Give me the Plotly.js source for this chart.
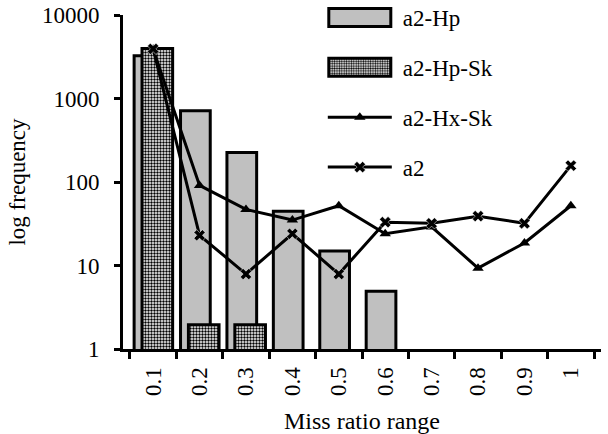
<!DOCTYPE html>
<html>
<head>
<meta charset="utf-8">
<script src="https://cdn.plot.ly/plotly-3.0.1.min.js"></script>
<style>html,body{margin:0;padding:0;background:#fff;}#chart{width:608px;height:434px;}</style>
</head>
<body>
<div id="chart"></div>
<script>
var categories = ["0.1","0.2","0.3","0.4","0.5","0.6","0.7","0.8","0.9","1"];
var a2Hp     = [3240, 714, 225, 44.5, 14.9, 4.9, null, null, null, null];
var a2HpSk   = [3980, 1.95, 1.95, null, null, null, null, null, null, null];
var a2HxSk   = [3900, 91, 47, 35, 52, 24, 29, 9.3, 18.6, 52];
var a2       = [3930, 23, 7.9, 24, 7.9, 33, 32, 39, 32, 157];
var yTickVals = [1, 10, 100, 1000, 10000];
var yTickText = ["1", "10", "100", "1000", "10000"];

var FONT = "'Liberation Serif', 'Times New Roman', Times, serif";

var traces = [
  {type:"bar", name:"a2-Hp", x:categories, y:a2Hp, offset:-0.41, width:0.64,
   marker:{color:"#c0c0c0", line:{color:"#000", width:3}}, legendgroup:"g1"},
  {type:"bar", name:"a2-Hp-Sk", x:categories, y:a2HpSk, offset:-0.24, width:0.66,
   marker:{color:"#ffffff", line:{color:"#000", width:3},
     pattern:{shape:".", fgcolor:"#000", bgcolor:"#fff", size:3, solidity:0.5}}, legendgroup:"g2"},
  {type:"scatter", mode:"lines+markers", name:"a2-Hx-Sk", x:categories, y:a2HxSk,
   line:{color:"#000", width:3}, marker:{symbol:"triangle-up", size:10, color:"#000"}, legendgroup:"g3"},
  {type:"scatter", mode:"lines+markers", name:"a2", x:categories, y:a2,
   line:{color:"#000", width:3}, marker:{symbol:"x", size:10, color:"#000", line:{color:"#fff", width:0.5}}, legendgroup:"g4"}
];

var layout = {
  width:608, height:434,
  margin:{l:123, r:7, t:15, b:85, autoexpand:false},
  paper_bgcolor:"#fff", plot_bgcolor:"#fff",
  font:{family:FONT, size:23, color:"#000"},
  barmode:"overlay",
  showlegend:true,
  legend:{x:0.418, y:1.057, xanchor:"left", yanchor:"top",
    traceorder:"grouped", tracegroupgap:17, itemwidth:64, bgcolor:"rgba(0,0,0,0)",
    font:{family:FONT, size:23, color:"#000"}},
  xaxis:{type:"category", showline:true, linecolor:"#000", linewidth:3,
    ticks:"outside", tickson:"boundaries", ticklen:7, tickwidth:3, tickcolor:"#000",
    tickangle:-90, showgrid:false, zeroline:false, ticklabelstandoff:6,
    tickfont:{family:FONT, size:23, color:"#000"},
    title:{text:"Miss ratio range", font:{family:FONT, size:24, color:"#000"}, standoff:19}},
  yaxis:{type:"log", range:[0,4], showline:true, linecolor:"#000", linewidth:3,
    ticks:"outside", ticklen:6, tickwidth:3, tickcolor:"#000",
    tickvals:yTickVals, ticktext:yTickText, showgrid:false, zeroline:false, ticklabelstandoff:10,
    tickfont:{family:FONT, size:23, color:"#000"},
    title:{text:"log frequency", font:{family:FONT, size:23, color:"#000"}, standoff:10}}
};

Plotly.newPlot("chart", traces, layout, {displayModeBar:false, staticPlot:true}).then(function(gd){
  gd.querySelectorAll(".legend [clip-path]").forEach(function(e){ e.removeAttribute("clip-path"); });
  gd.querySelectorAll(".legend .traces").forEach(function(tr, i){
    if (i < 2) {
      tr.querySelectorAll(".legendpoints path").forEach(function(p){
        p.setAttribute("d", "M31,9H-31V-9H31Z");
      });
    }
    tr.querySelectorAll("text.legendtext").forEach(function(t){
      var x = parseFloat(t.getAttribute("x")) || 0;
      t.setAttribute("x", x + 6);
    });
  });
});
</script>
</body>
</html>
